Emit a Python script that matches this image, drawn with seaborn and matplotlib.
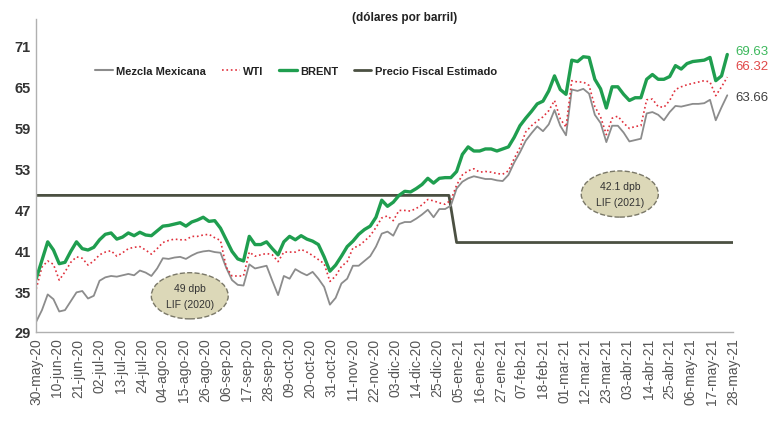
import numpy as np
import pandas as pd
import seaborn as sns
import matplotlib.pyplot as plt
from matplotlib.lines import Line2D

# Sampling grid for the price series (every 3 days).
START = '2020-05-30'
STEP_DAYS = 3

brent = [
    36.8, 39.5, 42.2, 41.0, 39.0, 39.2, 40.8, 42.2, 41.2, 41.0,
    41.4, 42.5, 43.3, 43.5, 42.6, 42.9, 43.5, 43.1, 43.6, 43.2,
    43.1, 43.8, 44.5, 44.6, 44.8, 45.0, 44.5, 45.1, 45.4, 45.8,
    45.2, 45.3, 44.2, 42.5, 40.8, 39.7, 39.4, 43.0, 41.8, 41.8,
    42.2, 41.2, 40.3, 42.2, 43.0, 42.5, 43.1, 42.6, 42.3, 41.8,
    40.0, 37.9, 38.8, 40.1, 41.5, 42.3, 43.3, 44.0, 44.5, 45.8,
    48.3, 47.4, 48.0, 49.0, 49.6, 49.5, 50.0, 50.6, 51.5, 50.8,
    51.5, 51.6, 51.6, 52.5, 55.0, 56.1, 55.5, 55.5, 55.8, 55.8,
    55.5, 55.8, 56.1, 57.5, 59.2, 60.3, 61.3, 62.4, 62.8, 64.3,
    66.5, 64.5, 63.8, 68.8, 68.6, 69.3, 69.2, 66.0, 64.6, 61.8,
    64.9, 64.9, 63.8, 62.9, 63.3, 63.3, 66.0, 66.7, 66.0, 66.0,
    66.4, 68.0, 67.5, 68.3, 68.6, 68.7, 68.8, 69.2, 65.8, 66.5,
    69.63,
]

wti = [
    35.3, 38.5, 39.4, 38.9, 36.6, 37.8, 39.2, 40.0, 39.8, 38.8,
    39.4, 40.3, 40.7, 40.9, 40.1, 40.6, 41.2, 41.4, 41.5, 41.0,
    40.4, 41.2, 42.1, 42.4, 42.6, 42.5, 42.5, 43.0, 43.0, 43.2,
    43.3, 42.8, 42.4, 38.5, 37.2, 37.2, 37.2, 40.7, 40.1, 40.3,
    40.5, 40.3, 39.3, 40.7, 40.7, 40.7, 41.1, 40.7, 40.2, 39.6,
    39.0, 36.4, 37.2, 38.6, 39.3, 41.3, 41.6, 42.3, 43.1, 44.3,
    45.7, 46.0, 45.3, 46.8, 46.8, 46.7, 47.1, 47.6, 48.4, 48.2,
    47.9, 47.7, 48.3, 50.5, 52.0, 52.6, 52.9, 52.4, 52.5, 52.4,
    52.2, 52.1, 52.6, 54.4, 56.0, 58.3, 59.2, 59.9, 60.5, 61.4,
    62.9, 60.2, 59.0, 65.8, 65.6, 65.6, 65.1, 62.0, 60.5, 57.9,
    60.3, 60.6, 59.6, 58.8, 59.1, 59.2, 63.0, 63.1, 62.0, 61.9,
    62.9, 64.5, 64.9, 65.2, 65.4, 65.6, 65.8, 65.6, 63.6, 64.9,
    66.32,
]

mezcla = [
    30.5, 32.2, 34.5, 33.8, 32.0, 32.2, 33.5, 34.8, 35.0, 33.9,
    34.3, 36.5, 37.0, 37.2, 37.1, 37.3, 37.5, 37.3, 38.0, 37.7,
    37.2, 38.3, 39.8, 39.7, 39.9, 40.0, 39.7, 40.2, 40.6, 40.8,
    40.9, 40.7, 40.6, 38.4, 36.6, 35.9, 35.8, 38.9, 38.3, 38.5,
    38.7, 36.5, 34.4, 37.2, 36.8, 38.2, 37.7, 37.3, 37.8, 36.8,
    35.6, 33.0, 34.0, 36.1, 36.8, 38.7, 38.7, 39.4, 40.1, 41.5,
    43.4, 43.7, 43.1, 44.8, 45.1, 45.1, 45.6, 46.2, 46.9, 45.8,
    47.0, 47.0, 47.5, 50.0, 51.0, 51.5, 51.8, 51.6, 51.4, 51.4,
    51.2, 51.1, 52.0, 53.8, 55.3, 57.0, 58.1, 59.1, 58.4, 59.4,
    61.5, 59.2, 57.8, 64.5, 64.3, 64.6, 63.9, 60.8, 59.6, 56.8,
    59.2, 59.2, 58.2, 56.9, 57.1, 57.3, 61.0, 61.2, 60.8, 60.0,
    61.2, 62.1, 62.0, 62.2, 62.4, 62.4, 62.5, 63.0, 60.0, 61.9,
    63.66,
]

# Precio fiscal estimado (LIF 2020 -> LIF 2021)
fiscal_dates = ['2020-05-30', '2020-12-31', '2021-01-04', '2021-05-28']
fiscal_values = [49.0, 49.0, 42.1, 42.1]

y_ticks = [29, 35, 41, 47, 53, 59, 65, 71]
x_tick_labels = [
    '30-may-20', '10-jun-20', '21-jun-20', '02-jul-20', '13-jul-20',
    '24-jul-20', '04-ago-20', '15-ago-20', '26-ago-20', '06-sep-20',
    '17-sep-20', '28-sep-20', '09-oct-20', '20-oct-20', '31-oct-20',
    '11-nov-20', '22-nov-20', '03-dic-20', '14-dic-20', '25-dic-20',
    '05-ene-21', '16-ene-21', '27-ene-21', '07-feb-21', '18-feb-21',
    '01-mar-21', '12-mar-21', '23-mar-21', '03-abr-21', '14-abr-21',
    '25-abr-21', '06-may-21', '17-may-21', '28-may-21',
]

# Colours
C_MEZCLA = '#8c8c8c'
C_WTI = '#e0303c'
C_BRENT = '#1f9e4f'
C_FISCAL = '#4b5042'

sns.set_style('white')
plt.rcParams['font.family'] = ['Liberation Sans', 'DejaVu Sans']

dates = pd.date_range(START, periods=len(brent), freq=f'{STEP_DAYS}D')
df = pd.DataFrame({'fecha': dates, 'Mezcla Mexicana': mezcla,
                   'WTI': wti, 'BRENT': brent})
fiscal = pd.DataFrame({'fecha': pd.to_datetime(fiscal_dates),
                       'valor': fiscal_values})

fig = plt.figure(figsize=(7.7, 4.39), dpi=100)
ax = fig.add_axes([0.047, 0.2415, 0.905, 0.7125])

sns.lineplot(data=fiscal, x='fecha', y='valor', ax=ax, color=C_FISCAL,
             linewidth=2.0)
sns.lineplot(data=df, x='fecha', y='Mezcla Mexicana', ax=ax,
             color=C_MEZCLA, linewidth=1.3)
sns.lineplot(data=df, x='fecha', y='WTI', ax=ax, color=C_WTI,
             linewidth=1.2, linestyle=':')
sns.lineplot(data=df, x='fecha', y='BRENT', ax=ax, color=C_BRENT,
             linewidth=2.4)

tick_dates = pd.date_range('2020-05-30', periods=len(x_tick_labels),
                           freq='11D')
ax.set_xlim(tick_dates[0], tick_dates[-1])
ax.set_ylim(29, 74.8)
ax.set_xticks(tick_dates)
ax.set_xticklabels(x_tick_labels, rotation=90, fontsize=10,
                   color='#555555')
ax.set_yticks(y_ticks)
ax.set_yticklabels([str(v) for v in y_ticks], fontsize=10.5,
                   fontweight='bold', color='#333333')
ax.tick_params(axis='both', length=0, pad=4)
ax.set_xlabel('')
ax.set_ylabel('')

for side in ['top', 'right']:
    ax.spines[side].set_visible(False)
for side in ['left', 'bottom']:
    ax.spines[side].set_color('#b0b0b0')
    ax.spines[side].set_linewidth(1.0)

# Final values at the right edge
last = tick_dates[-1] + pd.Timedelta(days=1)
ax.text(last, 70.1, f'{brent[-1]:.2f}', color='#3cb85c', fontsize=9.5,
        va='center', ha='left', clip_on=False)
ax.text(last, 67.9, f'{wti[-1]:.2f}', color='#e04848', fontsize=9.5,
        va='center', ha='left', clip_on=False)
ax.text(last, 63.4, f'{mezcla[-1]:.2f}', color='#404040', fontsize=9.5,
        va='center', ha='left', clip_on=False)

# LIF callouts
bubble = dict(boxstyle='ellipse,pad=0.3', fc='#dcd8b8', ec='#7a7868',
              ls='--', lw=1.0)
ax.text(pd.Timestamp('2020-08-18'), 34.3, '49 dpb\nLIF (2020)',
        ha='center', va='center', fontsize=7.5, color='#333333',
        linespacing=1.8, bbox=bubble)
ax.text(pd.Timestamp('2021-03-30'), 49.2, '42.1 dpb\nLIF (2021)',
        ha='center', va='center', fontsize=7.5, color='#333333',
        linespacing=1.8, bbox=bubble)

# Legend
handles = [
    Line2D([], [], color=C_MEZCLA, lw=1.5),
    Line2D([], [], color=C_WTI, lw=1.2, ls=':'),
    Line2D([], [], color=C_BRENT, lw=2.4),
    Line2D([], [], color=C_FISCAL, lw=2.0),
]
labels = ['Mezcla Mexicana', 'WTI', 'BRENT', 'Precio Fiscal Estimado']
leg = ax.legend(handles, labels, loc='center', ncol=4, frameon=False,
                bbox_to_anchor=(0.373, 0.834), handlelength=1.6,
                handletextpad=0.3, columnspacing=1.4,
                prop={'weight': 'bold', 'size': 8})
for t in leg.get_texts():
    t.set_color('#222222')

fig.text(0.525, 0.958, '(dólares por barril)', ha='center', va='center',
         fontsize=8.5, fontweight='bold', color='#222222')

fig.savefig('out.png', dpi=100)
